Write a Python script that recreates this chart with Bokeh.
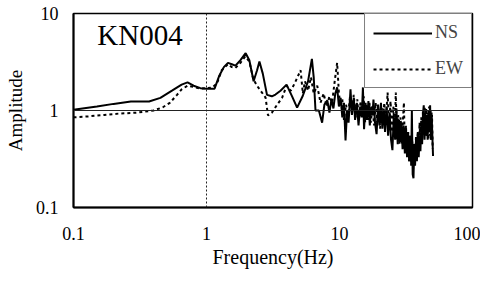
from bokeh.plotting import figure
from bokeh.models import Span, Legend, LegendItem, FixedTicker, Label
from bokeh.embed import file_html
from bokeh.resources import INLINE

# ---- data ----
ns_freq = [0.1, 0.15, 0.2, 0.27, 0.37, 0.45, 0.55, 0.65, 0.72, 0.8, 0.9, 1.0, 1.15,
           1.25, 1.35, 1.45, 1.55, 1.65, 1.8, 1.97, 2.1, 2.26, 2.4, 2.5, 2.65, 2.85,
           3.1, 3.3, 3.6, 4.0, 4.4, 4.8, 5.3, 5.8, 6.2, 6.4, 6.6,
           7.0, 7.4, 7.7, 8.1, 8.4, 8.7, 9.0, 9.3, 9.6, 9.9, 10.2, 10.5, 10.8, 11.1,
           11.4, 11.7, 12.1, 12.4, 12.8, 13.1, 13.5, 13.9, 14.3, 14.7, 15.0, 15.3,
           15.7, 16.1, 16.5, 16.9, 17.3, 17.7, 18.0, 18.5, 19.0, 19.5, 20.0, 20.5,
           21.0, 21.5, 22.0, 22.6, 23.2, 23.8, 24.4, 25.0, 25.6, 26.2, 26.8, 27.4,
           28.0, 28.6, 29.2, 29.8, 30.4, 31.0, 31.6, 32.2, 32.8, 33.4, 34.0, 34.6,
           35.0, 35.5, 36.0, 36.5, 37.0, 37.6, 38.2, 38.8, 39.4, 40.0, 40.6, 41.2,
           41.8, 42.4, 43.0, 43.6, 44.2, 44.8, 45.4, 46.0, 46.6, 47.2, 48.0, 48.6,
           49.2, 49.8, 50.5]
ns_amp = [1.02, 1.1, 1.17, 1.24, 1.24, 1.35, 1.6, 1.85, 1.95, 1.8, 1.7, 1.68, 1.68,
          2.3, 2.8, 3.1, 3.0, 2.9, 3.3, 3.9, 3.3, 2.0, 2.6, 3.2, 2.4, 1.45,
          1.4, 1.46, 1.6, 1.85, 1.4, 1.07, 1.42, 2.0, 3.4, 2.2, 1.0,
          1.0, 0.75, 1.15, 1.27, 0.95, 1.3, 1.05, 1.5, 1.73, 1.1, 1.35, 0.85, 1.2, 0.49,
          1.0, 0.75, 1.65, 0.9, 1.35, 0.8, 1.2, 0.7, 1.1, 0.85, 1.73, 0.64,
          1.2, 0.8, 1.25, 0.7, 1.1, 0.9, 1.3, 0.75, 0.57, 1.15, 0.7, 1.2,
          0.65, 1.05, 0.6, 1.1, 0.55, 0.95, 0.5, 0.39, 0.9, 0.5, 1.05, 0.45,
          0.8, 0.47, 0.75, 0.4, 0.7, 0.36, 0.65, 0.33, 0.6, 0.3, 0.55, 0.28,
          1.0, 0.22, 0.2, 0.45, 0.27, 0.5, 0.3, 0.6, 0.33, 0.55, 0.38, 0.7,
          0.45, 0.9, 1.13, 0.5, 0.95, 0.55, 0.9, 0.5, 1.0, 0.6, 1.13, 0.5,
          0.95, 0.6, 0.34]

ew_freq = [0.1, 0.13, 0.17, 0.22, 0.3, 0.4, 0.47, 0.53, 0.6, 0.65, 0.72, 0.8, 0.9,
           1.0, 1.1, 1.2, 1.3, 1.45, 1.55, 1.65, 1.8, 1.95, 2.1, 2.25, 2.4, 2.55,
           2.78, 2.9, 3.1, 3.4, 3.7, 4.0, 4.3, 4.6, 5.1, 5.3, 5.5, 5.8, 6.1, 6.4,
           6.8, 7.2, 7.6, 8.0, 8.4, 8.8, 9.2, 9.6, 9.9, 10.2, 10.5, 10.8,
           11.2, 11.6, 12.0, 12.4, 12.8, 13.2, 13.6, 14.0, 14.4, 14.8, 15.2, 15.6,
           16.0, 16.4, 16.8, 17.2, 17.7, 18.2, 18.7, 19.2, 19.7, 20.2, 20.7, 21.2,
           21.7, 22.3, 23.0, 23.6, 24.2, 24.8, 25.4, 26.0, 26.5, 27.0, 27.6, 28.2,
           28.8, 29.4, 30.0, 30.5, 31.0, 31.6, 32.2, 32.8, 33.4, 34.0, 34.6, 35.2,
           35.8, 36.4, 37.0, 37.6, 38.2, 38.8, 39.4, 40.0, 40.6, 41.2, 41.8, 42.4,
           43.0, 43.6, 44.2, 44.8, 45.4, 46.0, 46.6, 47.2, 47.8, 48.4, 49.0, 49.6,
           50.2]
ew_amp = [0.85, 0.87, 0.9, 0.93, 0.95, 1.0, 1.08, 1.2, 1.45, 1.65, 1.8, 1.75, 1.68,
          1.7, 1.72, 1.9, 2.6, 3.0, 2.8, 2.75, 3.1, 3.6, 3.2, 2.1, 1.8, 1.6,
          1.36, 0.89, 0.95, 1.15, 1.35, 1.8, 1.6, 1.9, 2.6, 1.5, 2.0, 1.6, 2.2, 1.5,
          1.8, 1.2, 1.5, 1.1, 1.4, 1.2, 2.0, 3.1, 1.5, 1.1, 1.3, 0.8,
          1.15, 0.85, 1.4, 0.95, 1.45, 0.85, 1.3, 0.8, 1.25, 0.9, 1.4, 0.75,
          1.15, 0.8, 1.2, 0.75, 1.1, 0.7, 1.2, 0.75, 1.05, 0.65, 1.1, 0.7,
          1.2, 0.75, 1.53, 0.7, 1.25, 0.6, 1.1, 0.55, 1.53, 0.5, 0.9, 0.45,
          0.85, 0.45, 0.8, 1.21, 0.4, 0.7, 0.35, 0.6, 0.3, 0.55, 0.27, 0.5,
          0.25, 0.45, 0.3, 0.55, 0.35, 0.6, 0.4, 0.75, 0.45, 0.85, 0.5, 1.0,
          0.55, 1.1, 0.6, 1.05, 0.55, 0.95, 0.5, 1.1, 0.55, 1.0, 0.5, 0.9,
          0.4]

x_ticks = [0.1, 1, 10, 100]
y_ticks = [0.1, 1, 10]
station = "KN004"

FONT = "Liberation Serif"

p = figure(width=480, height=273, x_axis_type="log", y_axis_type="log",
           x_range=(0.1, 100), y_range=(0.1, 10),
           output_backend="svg", toolbar_location=None,
           min_border_left=73, min_border_right=8, min_border_top=13, min_border_bottom=66)

p.xgrid.visible = False
p.ygrid.visible = False
p.outline_line_color = "black"
p.outline_line_width = 1.5
p.background_fill_color = "white"
p.border_fill_color = "white"

for ax, ticks in ((p.xaxis[0], x_ticks), (p.yaxis[0], y_ticks)):
    ax.ticker = FixedTicker(ticks=ticks)
    ax.major_label_overrides = {t: ("%g" % t) for t in ticks}
    ax.major_tick_in = 0
    ax.major_tick_out = 0
    ax.minor_tick_in = 0
    ax.minor_tick_out = 0
    ax.axis_line_width = 2
    ax.axis_line_color = "black"
    ax.major_label_text_font = FONT
    ax.major_label_text_font_size = "18px"
    ax.major_label_text_color = "black"
    ax.axis_label_text_font = FONT
    ax.axis_label_text_font_style = "normal"
    ax.axis_label_text_color = "black"

p.xaxis.axis_label = "Frequency(Hz)"
p.yaxis.axis_label = "Amplitude"
p.xaxis.axis_label_text_font_size = "20px"
p.yaxis.axis_label_text_font_size = "19px"
p.xaxis.major_label_standoff = 19
p.xaxis.axis_label_standoff = 3
p.yaxis.major_label_standoff = 15
p.yaxis.axis_label_standoff = 7

p.add_layout(Span(location=1, dimension="width", line_color="#222222", line_width=1))
p.add_layout(Span(location=1, dimension="height", line_color="#222222", line_width=1,
                  line_dash="2 2"))

r_ns = p.line(ns_freq, ns_amp, line_color="black", line_width=2)
r_ew = p.line(ew_freq, ew_amp, line_color="black", line_width=2, line_dash="3 3")

p.add_layout(Label(x=0.151, y=6.0, text=station, text_font=FONT,
                   text_font_size="29px", text_color="black",
                   text_baseline="alphabetic"))

legend = Legend(items=[LegendItem(label="NS", renderers=[r_ns]),
                       LegendItem(label="EW", renderers=[r_ew])],
                location="top_right")
legend.label_text_font = FONT
legend.label_text_font_size = "18px"
legend.glyph_width = 59
legend.glyph_height = 20
legend.label_height = 20
legend.label_standoff = 3
legend.spacing = 15
legend.padding = 8
legend.margin = 0
legend.border_line_color = "black"
legend.border_line_width = 1
legend.background_fill_alpha = 1
p.add_layout(legend)

open("out.html", "w").write(file_html(p, INLINE))
